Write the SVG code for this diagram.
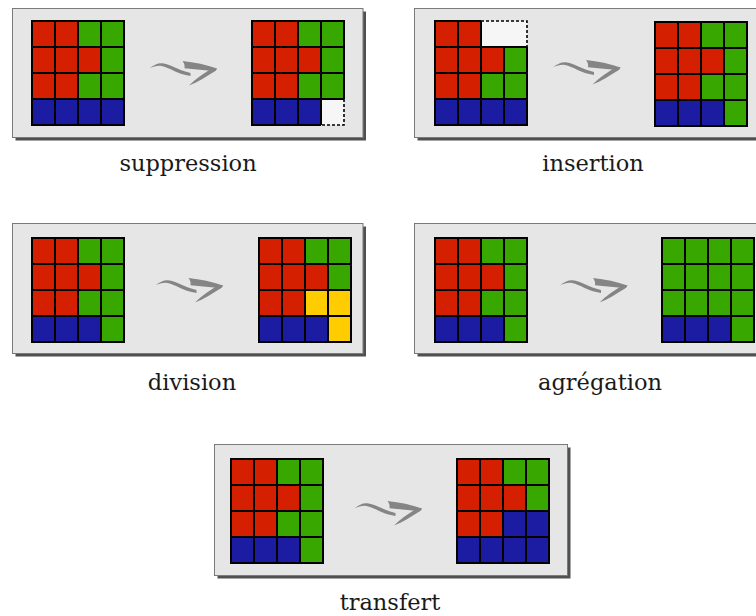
<svg xmlns="http://www.w3.org/2000/svg" xmlns:xlink="http://www.w3.org/1999/xlink" width="756" height="616" viewBox="0 0 756 616">
<style>
.r{fill:#d42000}.g{fill:#38a800}.b{fill:#1c1ca2}.y{fill:#ffcc00}.e{fill:#f6f6f6}
.ln{fill:none;stroke:#000;stroke-width:2}
.ds{fill:none;stroke:#000;stroke-width:1.6;stroke-dasharray:3 2}
.sh{fill:#505050}
.bx{fill:#e6e6e6;stroke:#7a7a7a;stroke-width:1}
.lb{font-family:"DejaVu Serif",serif;font-size:22.5px;fill:#1a1a1a;text-anchor:middle}
.aw{fill:#858585}
</style>
<defs>
<path id="grid" class="ln" d="M0,0H92V104H0Z M23,0V104 M46,0V104 M69,0V104 M0,26H92 M0,52H92 M0,78H92"/>
<g id="rows012">
<rect class="r" x="0" y="0" width="46" height="26"/><rect class="g" x="46" y="0" width="46" height="26"/>
<rect class="r" x="0" y="26" width="69" height="26"/><rect class="g" x="69" y="26" width="23" height="26"/>
<rect class="r" x="0" y="52" width="46" height="26"/><rect class="g" x="46" y="52" width="46" height="26"/>
</g>
<g id="std">
<use xlink:href="#rows012"/>
<rect class="b" x="0" y="78" width="69" height="26"/><rect class="g" x="69" y="78" width="23" height="26"/>
<use xlink:href="#grid"/>
</g>
<filter id="soft" x="-10%" y="-30%" width="120%" height="160%"><feGaussianBlur stdDeviation="0.55"/></filter>
<g id="arw" filter="url(#soft)">
<path class="aw" d="M0,0.5 C4,-3 8,-5 12.5,-4.8 C21,-4 29,2.2 41,5 L41,8 C28,6.2 20,-0.5 12,-2 C8,-2.6 4,-1.4 0,0.5 Z"/>
<path class="aw" d="M33,-7 C45,-6 57,-2.8 67.5,0.4 L66,3 C56,2.2 45,1.2 35,0.2 C35.5,-2.5 34.5,-5 33,-7 Z"/>
<path class="aw" d="M67.5,0.4 L65,3.4 C57,8.5 48,14 39.5,17.5 C46,11 54,5.5 61,1.2 Z"/>
</g>
</defs>

<g id="panel-suppression">
<rect class="sh" x="15.5" y="11.5" width="350.5" height="129"/>
<rect class="bx" x="12.5" y="8.5" width="350.5" height="129"/>
<g transform="translate(32,21)">
<use xlink:href="#rows012"/>
<rect class="b" x="0" y="78" width="92" height="26"/>
<use xlink:href="#grid"/>
</g>
<g transform="translate(252,21)">
<use xlink:href="#rows012"/>
<rect class="b" x="0" y="78" width="69" height="26"/><rect class="e" x="69" y="78" width="23" height="26"/>
<path class="ln" d="M69,104H0V0H92V78 M23,0V104 M46,0V104 M69,0V104 M0,26H92 M0,52H92 M0,78H92"/>
<path class="ds" d="M92,78V104H69"/>
</g>
<text class="lb" x="188" y="170.5">suppression</text>
</g>

<g id="panel-insertion">
<rect class="sh" x="417.5" y="11.5" width="345" height="129"/>
<rect class="bx" x="414.5" y="8.5" width="345" height="129"/>
<g transform="translate(435,21)">
<rect class="r" x="0" y="0" width="46" height="26"/><rect class="e" x="46" y="0" width="46" height="26"/>
<rect class="r" x="0" y="26" width="69" height="26"/><rect class="g" x="69" y="26" width="23" height="26"/>
<rect class="r" x="0" y="52" width="46" height="26"/><rect class="g" x="46" y="52" width="46" height="26"/>
<rect class="b" x="0" y="78" width="92" height="26"/>
<path class="ln" d="M46,0H0V104H92V26 M23,0V104 M46,0V104 M69,26V104 M0,26H92 M0,52H92 M0,78H92"/>
<path class="ds" d="M46,0H92V26"/>
</g>
<g transform="translate(655,22)"><use xlink:href="#std"/></g>
<text class="lb" x="593" y="170.5">insertion</text>
</g>

<g id="panel-division">
<rect class="sh" x="15.5" y="226.5" width="350.5" height="130"/>
<rect class="bx" x="12.5" y="223.5" width="350.5" height="130"/>
<g transform="translate(32,238)"><use xlink:href="#std"/></g>
<g transform="translate(259,238)">
<rect class="r" x="0" y="0" width="46" height="26"/><rect class="g" x="46" y="0" width="46" height="26"/>
<rect class="r" x="0" y="26" width="69" height="26"/><rect class="g" x="69" y="26" width="23" height="26"/>
<rect class="r" x="0" y="52" width="46" height="26"/><rect class="y" x="46" y="52" width="46" height="26"/>
<rect class="b" x="0" y="78" width="69" height="26"/><rect class="y" x="69" y="78" width="23" height="26"/>
<use xlink:href="#grid"/>
</g>
<text class="lb" x="192" y="389.5">division</text>
</g>

<g id="panel-agregation">
<rect class="sh" x="417.5" y="226.5" width="345" height="130"/>
<rect class="bx" x="414.5" y="223.5" width="345" height="130"/>
<g transform="translate(435,238)"><use xlink:href="#std"/></g>
<g transform="translate(662,238)">
<rect class="g" x="0" y="0" width="92" height="78"/>
<rect class="b" x="0" y="78" width="69" height="26"/><rect class="g" x="69" y="78" width="23" height="26"/>
<use xlink:href="#grid"/>
</g>
<text class="lb" x="600" y="389.5">agrégation</text>
</g>

<g id="panel-transfert">
<rect class="sh" x="217.5" y="447.5" width="353" height="131"/>
<rect class="bx" x="214.5" y="444.5" width="353" height="131"/>
<g transform="translate(231,459)"><use xlink:href="#std"/></g>
<g transform="translate(457,459)">
<rect class="r" x="0" y="0" width="46" height="26"/><rect class="g" x="46" y="0" width="46" height="26"/>
<rect class="r" x="0" y="26" width="69" height="26"/><rect class="g" x="69" y="26" width="23" height="26"/>
<rect class="r" x="0" y="52" width="46" height="26"/><rect class="b" x="46" y="52" width="46" height="26"/>
<rect class="b" x="0" y="78" width="92" height="26"/>
<use xlink:href="#grid"/>
</g>
<text class="lb" x="390" y="609.5">transfert</text>
</g>

<g id="connectors">
<use xlink:href="#arw" transform="translate(149.5,68)"/>
<use xlink:href="#arw" transform="translate(553,67)"/>
<use xlink:href="#arw" transform="translate(155.5,285)"/>
<use xlink:href="#arw" transform="translate(560,285)"/>
<use xlink:href="#arw" transform="translate(354.5,508)"/>
</g>
</svg>
